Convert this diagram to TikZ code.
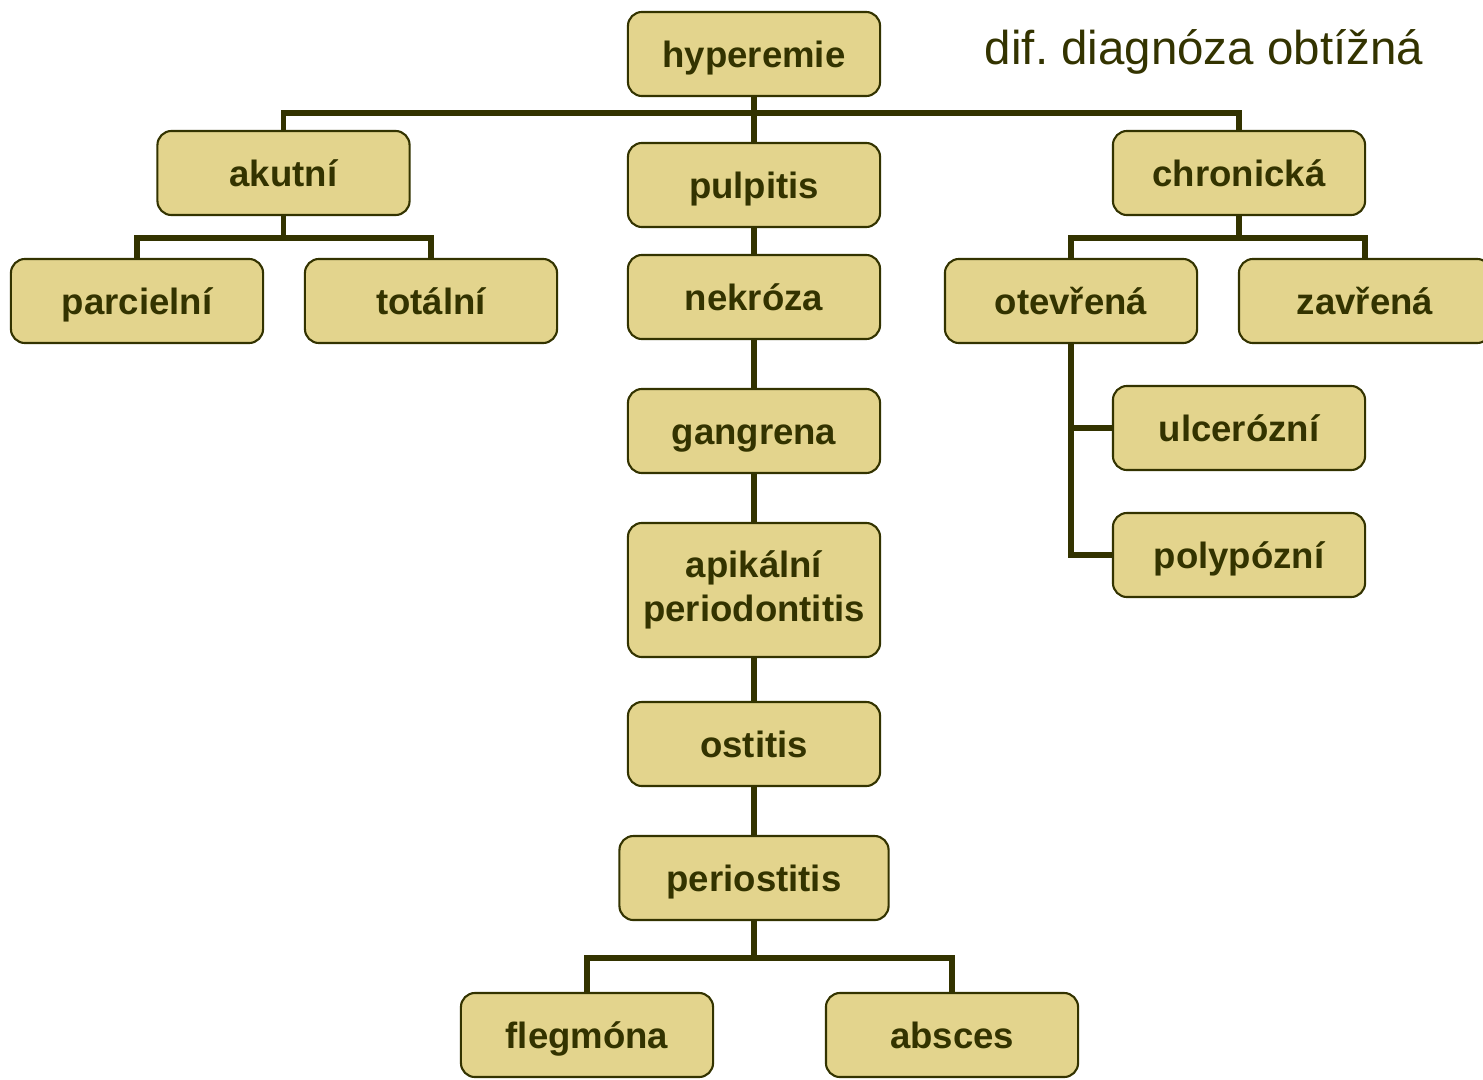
\documentclass[tikz,border=0pt]{standalone}
\usepackage{fontspec}
\setmainfont{Liberation Sans}
\definecolor{boxfill}{HTML}{E3D48D}
\definecolor{darkolive}{HTML}{333300}

\begin{document}
\frenchspacing
\begin{tikzpicture}[x=0.01cm, y=-0.01cm,
		box/.style={draw=darkolive, line width=0.6pt, fill=boxfill, rounded corners=4pt,
			minimum width=2.52cm, minimum height=0.84cm, inner sep=0.5mm, align=center,
			text height=1.75ex, text depth=0.35ex,
			text=darkolive, font=\bfseries\fontsize{10.4}{12.5}\selectfont},
		conn/.style={draw=darkolive, line width=1.55pt},
	]
	\useasboundingbox (0, 0) rectangle (1483, 1079);

	% title
	\node[text=darkolive, inner sep=0, font=\fontsize{13.5}{16}\selectfont] (dif) at (1204, 52) {dif. diagnóza obtížná};

	% boxes
	\node[box] (hyper) at (754, 54) {hyperemie};
	\node[box] (akut) at (283.5, 173) {akutní};
	\node[box] (pulp) at (754, 185) {pulpitis};
	\node[box] (chron) at (1239, 173) {chronická};
	\node[box] (parc) at (137, 301) {parcielní};
	\node[box] (total) at (431, 301) {totální};
	\node[box] (nekr) at (754, 297) {nekróza};
	\node[box] (otev) at (1071, 301) {otevřená};
	\node[box] (zavr) at (1365, 301) {zavřená};
	\node[box] (gang) at (754, 431) {gangrena};
	\node[box, minimum height=1.34cm, text height=, text depth=] (apik) at (754, 590) {apikální\\periodontitis};
	\node[box] (ulcer) at (1239, 428) {ulcerózní};
	\node[box] (polyp) at (1239, 555) {polypózní};
	\node[box] (ostit) at (754, 744) {ostitis};
	\node[box, minimum width=2.69cm] (perio) at (754, 878) {periostitis};
	\node[box] (flegm) at (587, 1035) {flegmóna};
	\node[box] (absc) at (952, 1035) {absces};

	% connectors
	\draw[conn] (hyper) -- (pulp);
	\draw[conn] (akut.north) -- ++(0, -17) -| (chron.north);
	\draw[conn] (akut.south) -- ++(0, 22) coordinate (akbus) -| (parc.north);
	\draw[conn] (akbus) -| (total.north);
	\draw[conn] (chron.south) -- ++(0, 22) coordinate (chbus) -| (otev.north);
	\draw[conn] (chbus) -| (zavr.north);
	\draw[conn] (otev.south) |- (ulcer.west);
	\draw[conn] (otev.south) |- (polyp.west);
	\foreach \a/\b in {pulp/nekr, nekr/gang, gang/apik, apik/ostit, ostit/perio}
		\draw[conn] (\a) -- (\b);
	\draw[conn] (perio.south) -- ++(0, 37) coordinate (pebus) -| (flegm.north);
	\draw[conn] (pebus) -| (absc.north);
\end{tikzpicture}
\end{document}
